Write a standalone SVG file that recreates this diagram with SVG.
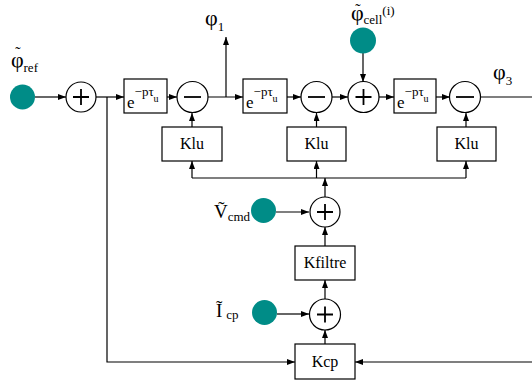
<svg xmlns="http://www.w3.org/2000/svg" width="532" height="383" viewBox="0 0 532 383" font-family="'Liberation Serif', 'Times New Roman', serif">
<style>
text, tspan{font-family:"Liberation Serif","Times New Roman",serif;fill:#000}
.box{fill:#fff;stroke:#000;stroke-width:1.2}
.op{fill:#fff;stroke:#000;stroke-width:1.2}
.sign{stroke:#000;stroke-width:1.8;fill:none}
.src{fill:#008c87}
.w{stroke:#000;stroke-width:1.2;fill:none}
.wa{stroke:#000;stroke-width:1.2;fill:none;marker-end:url(#ah)}
.lbl{font-size:16px;text-anchor:middle}
.e{font-size:17px}
.sup{font-size:13px}
.sub{font-size:10px}
.phi{font-size:22px}
.ps{font-size:13px}
.tl{font-size:16px}
</style>
<defs>
<marker id="ah" viewBox="0 0 8 6" refX="8" refY="3" markerWidth="8" markerHeight="6" orient="auto" markerUnits="userSpaceOnUse"><path d="M0,0 L8,3 L0,6 z" fill="#000"/></marker>
</defs>

<g id="connectors">
<path class="wa" d="M35,97 H66"/>
<path class="wa" d="M96,97 H124"/>
<path class="wa" d="M107,97 V362 H295"/>
<path class="wa" d="M167,97 H177"/>
<path class="wa" d="M208,97 H243"/>
<path class="wa" d="M226,97 V37"/>
<path class="wa" d="M287,97 H301"/>
<path class="wa" d="M332,97 H348"/>
<path class="wa" d="M363,53 V82"/>
<path class="wa" d="M379,97 H394"/>
<path class="wa" d="M436,97 H450"/>
<path class="w" d="M481,97 H532"/>
<path class="wa" d="M192,127 V113"/>
<path class="wa" d="M316.5,127 V113"/>
<path class="wa" d="M466,127 V113"/>
<path class="wa" d="M316.5,178 V161"/>
<path class="w" d="M192,178 H466"/>
<path class="wa" d="M192,178 V161"/>
<path class="wa" d="M466,178 V161"/>
<path class="wa" d="M325,197 V178"/>
<path class="wa" d="M276,212 H309"/>
<path class="wa" d="M325,246 V227"/>
<path class="wa" d="M325,299 V280"/>
<path class="wa" d="M277,314 H309"/>
<path class="wa" d="M325,344 V330"/>
<path class="wa" d="M532,362 H355"/>
</g>

<g id="phi_ref">
<circle class="src" cx="22.5" cy="97" r="12.5"/>
<text x="11" y="67" class="phi">φ<tspan class="tl" dx="-8.5" dy="-9">˜</tspan><tspan class="ps" dx="3" dy="14">ref</tspan></text>
</g>

<g id="sum1">
<circle class="op" cx="81" cy="97" r="15"/>
<path class="sign" d="M73,97 H89 M81,89 V105"/>
</g>

<g id="delay1">
<rect class="box" x="124" y="79" width="43" height="34"/>
<text x="127" y="108" class="e">e<tspan class="sup" dy="-12">−pτ</tspan><tspan class="sub" dy="6">u</tspan></text>
</g>

<g id="diff1">
<circle class="op" cx="192.5" cy="97" r="15.5"/>
<path class="sign" d="M184,97 H201"/>
</g>

<g id="phi1">
<text x="205" y="25" class="phi">φ<tspan class="ps" dy="6">1</tspan></text>
</g>

<g id="klu1">
<rect class="box" x="162" y="127" width="60" height="34"/>
<text x="192" y="149" class="lbl">Klu</text>
</g>

<g id="delay2">
<rect class="box" x="243" y="79" width="44" height="34"/>
<text x="246" y="108" class="e">e<tspan class="sup" dy="-12">−pτ</tspan><tspan class="sub" dy="6">u</tspan></text>
</g>

<g id="diff2">
<circle class="op" cx="316.5" cy="97" r="15.5"/>
<path class="sign" d="M308,97 H325"/>
</g>

<g id="klu2">
<rect class="box" x="287" y="127" width="59" height="34"/>
<text x="316.5" y="149" class="lbl">Klu</text>
</g>

<g id="sum_cell">
<circle class="op" cx="363.5" cy="97" r="15.5"/>
<path class="sign" d="M355.5,97 H371.5 M363.5,89 V105"/>
</g>

<g id="phi_cell">
<circle class="src" cx="363" cy="40.5" r="13"/>
<text x="351" y="20" class="phi">φ<tspan class="tl" dx="-8.5" dy="-5">˜</tspan><tspan class="ps" dx="3" dy="9">cell</tspan><tspan class="ps" dy="-9">(i)</tspan></text>
</g>

<g id="delay3">
<rect class="box" x="394" y="79" width="42" height="34"/>
<text x="397" y="108" class="e">e<tspan class="sup" dy="-12">−pτ</tspan><tspan class="sub" dy="6">u</tspan></text>
</g>

<g id="diff3">
<circle class="op" cx="465" cy="97" r="15.5"/>
<path class="sign" d="M456,97 H474"/>
</g>

<g id="phi3">
<text x="493" y="79" class="phi">φ<tspan class="ps" dy="6">3</tspan></text>
</g>

<g id="klu3">
<rect class="box" x="437" y="127" width="59" height="34"/>
<text x="466.5" y="149" class="lbl">Klu</text>
</g>

<g id="sum_v">
<circle class="op" cx="325" cy="212" r="15"/>
<path class="sign" d="M317,212 H333 M325,204 V220"/>
</g>

<g id="v_cmd">
<circle class="src" cx="263.5" cy="210.5" r="12.5"/>
<text x="214" y="218" class="phi" style="font-size:19px">Ṽ<tspan class="ps" dy="3">cmd</tspan></text>
</g>

<g id="kfiltre">
<rect class="box" x="295" y="246" width="60" height="34"/>
<text x="325" y="268" class="lbl">Kfiltre</text>
</g>

<g id="sum_i">
<circle class="op" cx="325" cy="314.5" r="15.5"/>
<path class="sign" d="M317,314.5 H333 M325,306.5 V322.5"/>
</g>

<g id="i_cp">
<circle class="src" cx="264.5" cy="312.5" r="12.5"/>
<text x="216" y="317" class="phi" style="font-size:19px">Ĩ<tspan class="ps" dx="4" dy="2">cp</tspan></text>
</g>

<g id="kcp">
<rect class="box" x="295" y="344" width="60" height="35"/>
<text x="325" y="367" class="lbl">Kcp</text>
</g>
</svg>
